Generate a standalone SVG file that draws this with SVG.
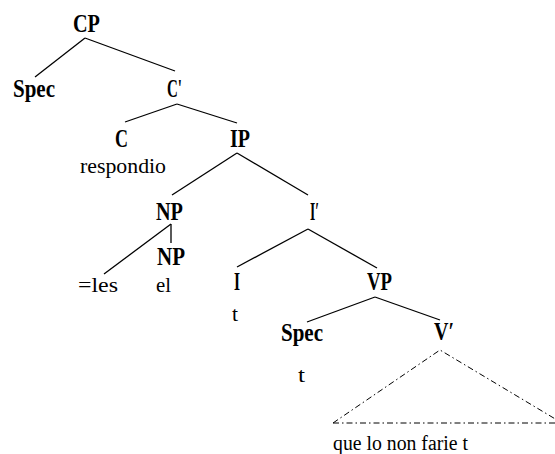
<svg xmlns="http://www.w3.org/2000/svg" width="555" height="454" viewBox="0 0 555 454">
<defs>
<style>
text{fill:#000}
.lab{font-weight:bold;font-size:26px}
.wd{font-size:20px}
.e{stroke:#000;stroke-width:1.3;fill:none}
.tri{stroke:#000;stroke-width:1;fill:none;stroke-dasharray:6,3,1.5,3}
</style>
</defs>
<rect width="555" height="454" fill="#fff"/>
<g id="connectors">
<line class="e" x1="85" y1="38" x2="35" y2="77"/>
<line class="e" x1="85" y1="38" x2="175" y2="71"/>
<line class="e" x1="177" y1="104" x2="125" y2="122"/>
<line class="e" x1="177" y1="104" x2="237" y2="123"/>
<line class="e" x1="237" y1="153" x2="172" y2="195"/>
<line class="e" x1="237" y1="153" x2="308" y2="195"/>
<line class="e" x1="171" y1="224" x2="171" y2="243"/>
<line class="e" x1="171" y1="224" x2="104" y2="274"/>
<line class="e" x1="308" y1="229" x2="237" y2="267"/>
<line class="e" x1="308" y1="229" x2="377" y2="268"/>
<line class="e" x1="375" y1="297" x2="307" y2="322"/>
<line class="e" x1="375" y1="297" x2="440" y2="320"/>
<polyline class="tri" points="333,423 440,350 562,423"/>
<line class="tri" x1="333" y1="423" x2="562" y2="423"/>
</g>
<g font-family="Liberation Serif, DejaVu Serif, serif">
<g id="CP"><text class="lab" x="73" y="32" textLength="27" lengthAdjust="spacingAndGlyphs">CP</text></g>
<g id="Spec1"><text class="lab" x="13" y="97" textLength="42" lengthAdjust="spacingAndGlyphs">Spec</text></g>
<g id="Cbar"><text class="lab" x="167" y="97" textLength="15" lengthAdjust="spacingAndGlyphs">C'</text></g>
<g id="C"><text class="lab" x="115" y="147" textLength="13" lengthAdjust="spacingAndGlyphs">C</text>
<text class="wd" x="80" y="173" font-size="23" textLength="86" lengthAdjust="spacingAndGlyphs">respondio</text></g>
<g id="IP"><text class="lab" x="230" y="147" textLength="20" lengthAdjust="spacingAndGlyphs">IP</text></g>
<g id="NP1"><text class="lab" x="156" y="220" textLength="27" lengthAdjust="spacingAndGlyphs">NP</text></g>
<g id="Ibar"><text class="lab" x="310" y="220" font-weight="normal" textLength="9" lengthAdjust="spacingAndGlyphs">I′</text></g>
<g id="les"><text class="wd" x="78" y="292" font-size="18" textLength="40" lengthAdjust="spacingAndGlyphs">=les</text></g>
<g id="NP2"><text class="lab" x="157" y="265" textLength="28" lengthAdjust="spacingAndGlyphs">NP</text>
<text class="wd" x="156" y="292" font-size="18" textLength="15" lengthAdjust="spacingAndGlyphs">el</text></g>
<g id="I"><text class="lab" x="234" y="290" font-weight="normal" textLength="6" lengthAdjust="spacingAndGlyphs">I</text>
<text class="wd" x="232" y="321" font-size="20" textLength="6" lengthAdjust="spacingAndGlyphs">t</text></g>
<g id="VP"><text class="lab" x="367" y="290" textLength="25" lengthAdjust="spacingAndGlyphs">VP</text></g>
<g id="Spec2"><text class="lab" x="281" y="341" font-size="24" textLength="42" lengthAdjust="spacingAndGlyphs">Spec</text>
<text class="wd" x="298" y="382" font-size="22" textLength="7" lengthAdjust="spacingAndGlyphs">t</text></g>
<g id="Vbar"><text class="lab" x="434" y="340" font-weight="normal" textLength="20" lengthAdjust="spacingAndGlyphs">V′</text>
<text class="wd" x="333" y="450" font-size="18" textLength="135" lengthAdjust="spacingAndGlyphs">que lo non farie t</text></g>
</g>
</svg>
